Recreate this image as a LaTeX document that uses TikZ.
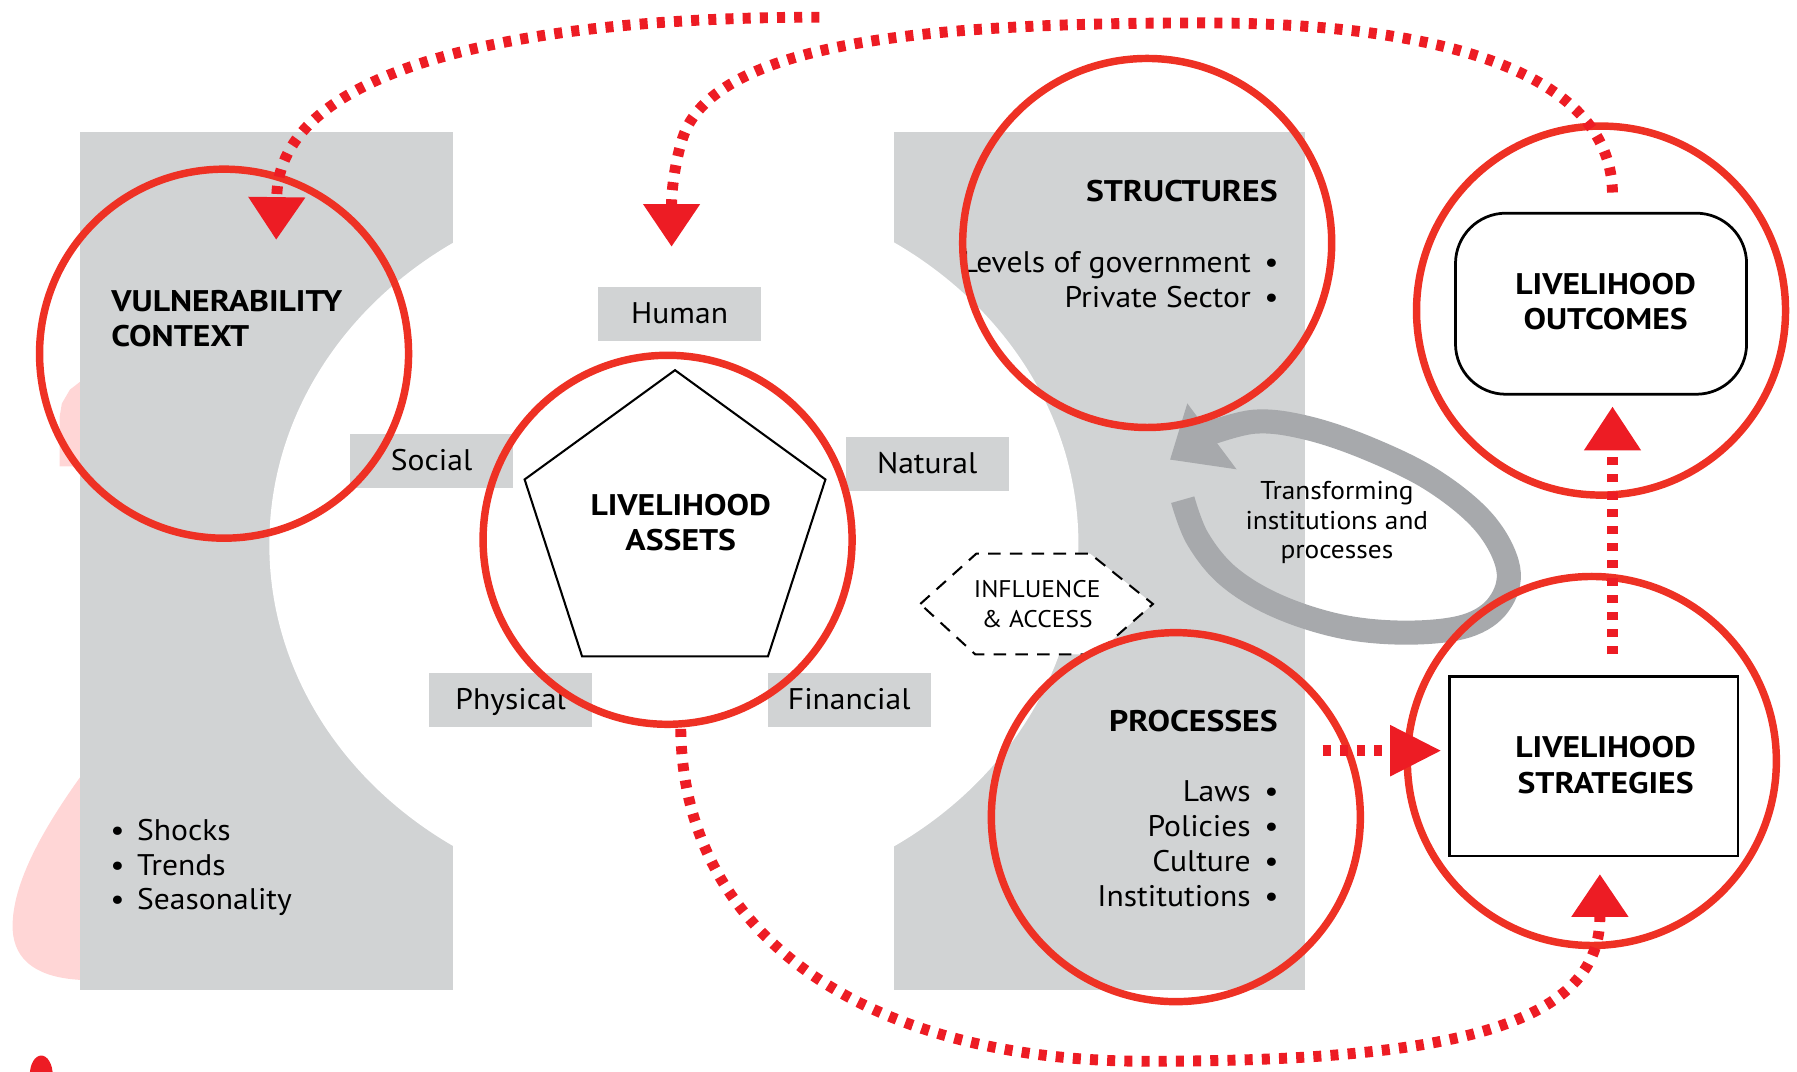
\documentclass[tikz,border=0pt]{standalone}
\usepackage{fontspec}
\setmainfont{PT Sans}[FakeStretch=1.06, BoldFeatures={FakeStretch=1.13}]
\usetikzlibrary{arrows.meta,shapes.geometric}
\definecolor{panel}{HTML}{D1D3D4}
\definecolor{loopgray}{HTML}{A7A9AC}
\definecolor{ringred}{HTML}{EE3124}
\definecolor{dotred}{HTML}{ED1C24}
\definecolor{pinkish}{HTML}{FFD6D6}
\begin{document}
\begin{tikzpicture}[x=1pt,y=-1pt,
  labelbox/.style={fill=panel, minimum width=142pt, minimum height=47pt, inner sep=0pt,
    font=\fontsize{26}{31}\selectfont, text height=18pt, text depth=2pt},
  ring/.style={circle, draw=ringred, line width=6.5pt, minimum size=322pt, inner sep=0pt},
  reg/.style={font=\fontsize{26}{31}\selectfont, inner sep=0pt},
  hd/.style={font=\fontsize{26}{31}\selectfont\bfseries, inner sep=0pt},
  small/.style={font=\fontsize{22.5}{26}\selectfont, inner sep=0pt},
  dotarrow/.style={draw=dotred, line width=9.5pt, dash pattern=on 7pt off 8pt},
  bigtip/.style={-{Triangle[width=50pt,length=37pt,line width=0pt]}},
]
\useasboundingbox (0,0) rectangle (1568,935);
% pink background blobs
\fill[pinkish] (70,333) -- (61,340) -- (54,352) -- (52,364) -- (52,407) -- (70,407) -- cycle;
\fill[pinkish] (70,678) .. controls (40,720) and (10,770) .. (11,810)
  .. controls (12,840) and (35,853) .. (70,855) -- cycle;
\fill[dotred] (36,938) ellipse [x radius=10, y radius=17];
% grey panels with cut-out
\fill[panel] (70,115) rectangle (395,864);
\fill[panel] (780,115) rectangle (1139,864);
\fill[white] (588,475) ellipse [x radius=353, y radius=314];
% asset labels
\node[labelbox] (human) at (593,274.3) {Human};
\node[labelbox] (social) at (376.6,402.4) {Social};
\node[labelbox] (natural) at (809,404.8) {Natural};
\node[labelbox] (physical) at (445.6,611) {Physical};
\node[labelbox] (financial) at (741,611) {Financial};
% pentagon
\node[regular polygon, regular polygon sides=5, minimum size=276pt, inner sep=0pt,
  draw=black, fill=white, line width=1.8pt] (pent) at (589,461) {};
\node[hd, align=center] (assetstxt) at (594,456) {LIVELIHOOD\\ASSETS};
% vulnerability texts
\node[hd, anchor=base west] (vul1) at (97,272) {VULNERABILITY};
\node[hd, anchor=base west] (vul2) at (97,302.5) {CONTEXT};
\node[reg, anchor=base west] (b1) at (96,733) {\textbullet\hspace{11pt}Shocks};
\node[reg, anchor=base west] (b2) at (96,763.6) {\textbullet\hspace{11pt}Trends};
\node[reg, anchor=base west] (b3) at (96,794) {\textbullet\hspace{11pt}Seasonality};
% structures
\node[hd, anchor=base east] (st0) at (1115,176) {STRUCTURES};
\node[reg, anchor=base east] (st1) at (1116,238) {Levels of government\hspace{12pt}\textbullet};
\node[reg, anchor=base east] (st2) at (1116,268) {Private Sector\hspace{12pt}\textbullet};
% processes
\node[hd, anchor=base east] (pr0) at (1115,638.5) {PROCESSES};
\node[reg, anchor=base east] (pr1) at (1116,699.5) {Laws\hspace{12pt}\textbullet};
\node[reg, anchor=base east] (pr2) at (1116,730) {Policies\hspace{12pt}\textbullet};
\node[reg, anchor=base east] (pr3) at (1116,760.6) {Culture\hspace{12pt}\textbullet};
\node[reg, anchor=base east] (pr4) at (1116,791) {Institutions\hspace{12pt}\textbullet};
% influence hexagon
\draw[black, line width=1.8pt, dash pattern=on 11pt off 8pt, fill=white]
  (803,527) -- (852,483) -- (951,483) -- (1006,527) -- (956,571) -- (851,571) -- cycle;
\node[font=\fontsize{21}{26}\selectfont, align=center, inner sep=0pt] (infl) at (905,527) {INFLUENCE\\\&~ACCESS};
% transforming loop
\draw[loopgray, line width=21pt] plot[smooth, tension=0.6] coordinates {(1032,436) (1045,470)
  (1072,503) (1115,529) (1172,547) (1230,552) (1280,546) (1308,527) (1316,496)
  (1295,456) (1250,419) (1193,391) (1139,373) (1094,368) (1050,380)};
\fill[loopgray] (1021,401) -- (1036,352) -- (1079,409.5) -- cycle;
\node[small, align=center] (transf) at (1166.5,456) {Transforming\\institutions and\\processes};
% outcome and strategy boxes
\node[draw=black, fill=white, line width=2.4pt, rounded corners=44pt, minimum width=254pt,
  minimum height=158pt, inner sep=0pt] (outcomes) at (1397,265) {};
\node[hd, align=center] (outtxt) at (1401,263) {LIVELIHOOD\\OUTCOMES};
\node[draw=black, fill=white, line width=2.4pt, minimum width=252pt,
  minimum height=157pt, inner sep=0pt] (strategies) at (1390.6,668.5) {};
\node[hd, align=center] (strattxt) at (1401,667.5) {LIVELIHOOD\\STRATEGIES};
% red rings
\node[ring] (rvul) at (195.5,308.6) {};
\node[ring] (rassets) at (582.5,471) {};
\node[ring] (rstruct) at (1001,212) {};
\node[ring] (rproc) at (1026,713) {};
\node[ring] (rout) at (1397,271) {};
\node[ring] (rstrat) at (1389,664) {};
% dotted arrows
\coordinate (a1s) at (715,15);
\coordinate (a1e) at (241,209);
\coordinate (a2s) at (1407,168);
\coordinate (a2m) at (1050,20);
\coordinate (a2n) at (600,110);
\coordinate (a2e) at (586,215);
\coordinate (a3s) at (594,636);
\coordinate (a3m) at (1000,926);
\coordinate (a3e) at (1396,763);
\coordinate (a4s) at (1154,655);
\coordinate (a4e) at (1257,655);
\coordinate (a5s) at (1407,571);
\coordinate (a5e) at (1407,355);
\draw[dotarrow, bigtip] (a1s) .. controls (450,15) and (243,60) .. (a1e);
\draw[dotarrow, bigtip] (a2s) .. controls (1405,60) and (1250,20) .. (a2m)
  .. controls (820,20) and (640,35) .. (a2n) .. controls (592,125) and (586,160) .. (a2e);
\draw[dotarrow, bigtip] (a3s) .. controls (596,820) and (760,926) .. (a3m)
  .. controls (1250,926) and (1396,900) .. (a3e);
\draw[dotarrow, -{Triangle[width=45pt,length=44pt,line width=0pt]}] (a4s) -- (a4e);
\draw[dotarrow, -{Triangle[width=50pt,length=38pt,line width=0pt]}] (a5s) -- (a5e);
\end{tikzpicture}
\end{document}
